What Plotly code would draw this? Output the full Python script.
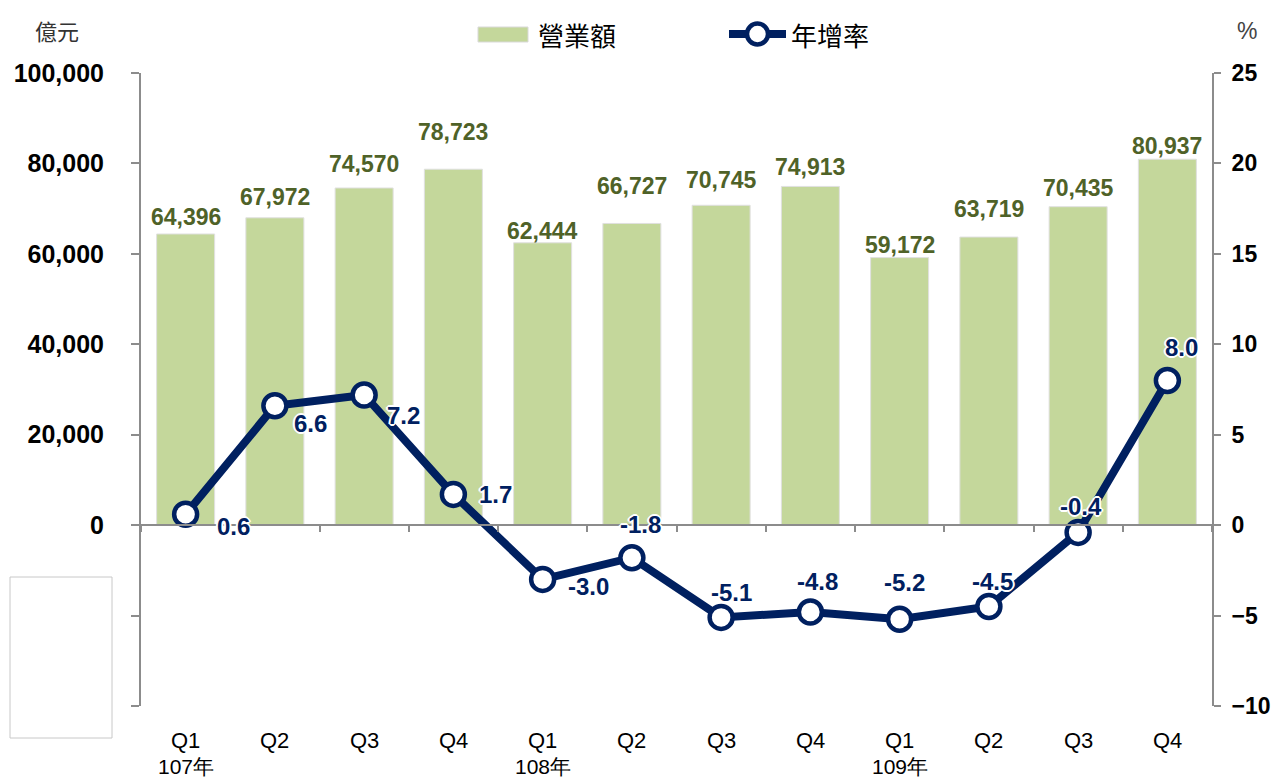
import plotly.graph_objects as go

categories = ["107Q1", "107Q2", "107Q3", "107Q4", "108Q1", "108Q2", "108Q3", "108Q4",
              "109Q1", "109Q2", "109Q3", "109Q4"]
quarter_labels = ["Q1", "Q2", "Q3", "Q4"] * 3
year_labels = ["107年", "", "", "", "108年", "", "", "", "109年", "", "", ""]
revenue = [64396, 67972, 74570, 78723, 62444, 66727, 70745, 74913, 59172, 63719, 70435, 80937]
growth = [0.6, 6.6, 7.2, 1.7, -3.0, -1.8, -5.1, -4.8, -5.2, -4.5, -0.4, 8.0]
left_ticks = [-40000, -20000, 0, 20000, 40000, 60000, 80000, 100000]
right_ticks = [-10, -5, 0, 5, 10, 15, 20, 25]

# label offsets (pixels) – style only
bar_label_gap = [17, 21, 24, 37, 12, 37, 25, 19, 13, 28, 19, 13]
growth_dx = [48, 36, 39, 42, 46, 9, 10, 7, 5, 4, 3, 14]
growth_dy = [-12, -18, -21, 0, -7, 33, 25, 30, 37, 25, 26, 33]

BAR = "#c4d79b"
NAVY = "#002060"
OLIVE = "#4f6228"
AX = "#8c8c8c"
FONT = "Liberation Sans, Arial, sans-serif"
CJK = "Noto Sans CJK TC"

halo = "-1px -1px 0 #fff, 1px -1px 0 #fff, -1px 1px 0 #fff, 1px 1px 0 #fff, 0 2px 0 #fff, 2px 0 0 #fff, 0 -2px 0 #fff, -2px 0 0 #fff"

fig = go.Figure()
fig.add_trace(go.Bar(
    x=categories, y=revenue, name="營業額",
    marker=dict(color=BAR, line=dict(color="#e0e0e0", width=1)),
    width=0.65, yaxis="y", showlegend=False,
))
fig.add_trace(go.Scatter(
    x=categories, y=growth, name="年增率", yaxis="y2",
    mode="lines+markers",
    line=dict(color=NAVY, width=8),
    marker=dict(size=23, color="white", line=dict(color=NAVY, width=4.5)),
    cliponaxis=False, showlegend=False,
))

L, R, T, B = 141, 62, 73, 72
W, H = 1274, 778
pw, ph = W - L - R, H - T - B

def px_x(p):
    return (p - L) / pw

def px_y(p):
    return (H - B - p) / ph

zero_frac = (0 - left_ticks[0]) / (left_ticks[-1] - left_ticks[0])

fig.update_layout(
    width=W, height=H,
    margin=dict(l=L, r=R, t=T, b=B, autoexpand=False),
    plot_bgcolor="white", paper_bgcolor="white",
    xaxis=dict(
        type="category", anchor="free", position=zero_frac,
        range=[-0.5, len(categories) - 0.5], automargin=False,
        showline=True, linecolor=AX, linewidth=1.5,
        ticks="outside", tickson="boundaries", ticklen=6, tickcolor=AX, tickwidth=1.5,
        showticklabels=False, showgrid=False, zeroline=False,
    ),
    yaxis=dict(
        range=[left_ticks[0], left_ticks[-1]], tickvals=left_ticks,
        ticktext=["" if v < 0 else f"{v:,}" for v in left_ticks],
        showline=True, linecolor=AX, linewidth=2, automargin=False,
        ticks="outside", ticklen=8, tickcolor=AX, tickwidth=1.5,
        ticklabelstandoff=22,
        tickfont=dict(family=FONT, size=25, color="black", weight="bold"),
        showgrid=False, zeroline=False,
    ),
    yaxis2=dict(
        range=[right_ticks[0], right_ticks[-1]], tickvals=right_ticks,
        overlaying="y", side="right", automargin=False,
        showline=True, linecolor=AX, linewidth=2,
        ticks="outside", ticklen=7, tickcolor=AX, tickwidth=1.5,
        ticklabelstandoff=6,
        tickfont=dict(family=FONT, size=23, color="black", weight="bold"),
        showgrid=False, zeroline=False,
    ),
)

def ann(x, y, text, font, xref="paper", xanchor="center"):
    return dict(x=x, y=y, xref=xref, yref="paper", text=text, showarrow=False,
                xanchor=xanchor, yanchor="middle", font=font)

annotations = []
for c, q, yl in zip(categories, quarter_labels, year_labels):
    annotations.append(ann(c, px_y(740), q, dict(family=FONT, size=22, color="black"), xref="x"))
    if yl:
        annotations.append(ann(c, px_y(766), yl, dict(family=FONT, size=21, color="black"), xref="x"))

for c, v, g in zip(categories, revenue, bar_label_gap):
    annotations.append(dict(x=c, y=v, xref="x", yref="y", text=f"{v:,}", showarrow=False,
                            xanchor="center", yanchor="middle", yshift=g,
                            font=dict(family=FONT, size=23, color=OLIVE, weight="bold")))

for c, v, dx, dy in zip(categories, growth, growth_dx, growth_dy):
    annotations.append(dict(x=c, y=v, xref="x", yref="y2", text=f"{v:.1f}", showarrow=False,
                            xanchor="center", yanchor="middle", xshift=dx, yshift=dy,
                            font=dict(family=FONT, size=24, color=NAVY, weight="bold", shadow=halo)))

annotations.append(ann(px_x(57), px_y(30), "億元", dict(family=CJK, size=22, color="#333")))
annotations.append(ann(px_x(1247), px_y(31), "%", dict(family=FONT, size=23, color="#444")))
annotations.append(ann(px_x(536), px_y(35), "營業額", dict(family=CJK, size=26, color="black"), xanchor="left"))
annotations.append(ann(px_x(789), px_y(35), "年增率", dict(family=CJK, size=26, color="black"), xanchor="left"))

shapes = [
    dict(type="rect", xref="paper", yref="paper", x0=px_x(10), x1=px_x(112), y0=px_y(738), y1=px_y(577),
         fillcolor="white", line=dict(color="#c8c8c8", width=1), layer="above"),
    dict(type="rect", xref="paper", yref="paper", x0=px_x(478), x1=px_x(528), y0=px_y(42), y1=px_y(27),
         fillcolor=BAR, line=dict(color="#d9d9d9", width=1)),
    dict(type="line", xref="paper", yref="paper", x0=px_x(729), x1=px_x(786), y0=px_y(34), y1=px_y(34),
         line=dict(color=NAVY, width=8)),
    dict(type="circle", xref="paper", yref="paper", x0=px_x(747), x1=px_x(768), y0=px_y(44.5), y1=px_y(23.5),
         fillcolor="white", line=dict(color=NAVY, width=4.5)),
]
fig.update_layout(annotations=annotations, shapes=shapes)

fig.write_html("out.html")
